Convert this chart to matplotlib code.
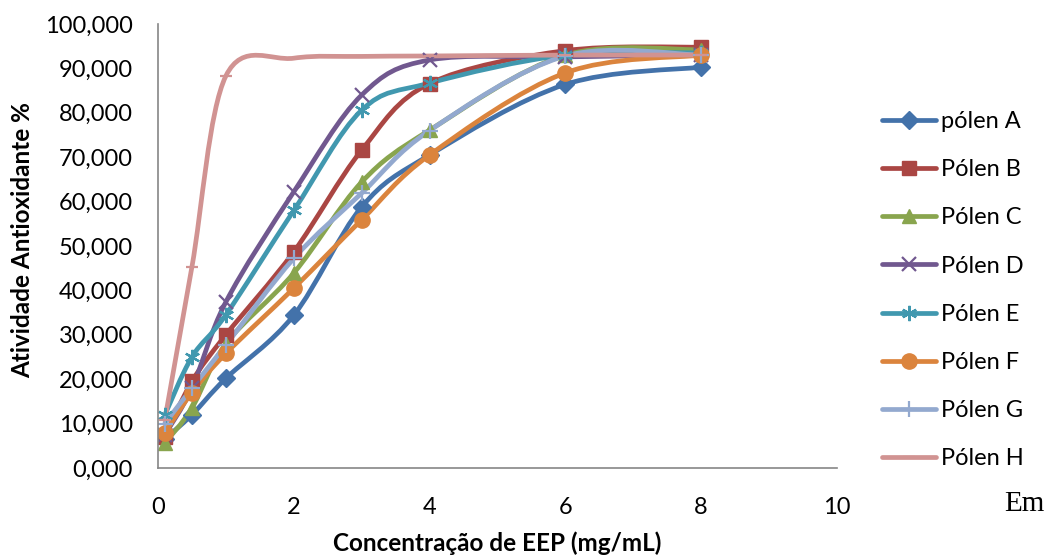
import numpy as np
import matplotlib
matplotlib.use("Agg")
import matplotlib.pyplot as plt
from matplotlib.path import Path
from matplotlib.patches import PathPatch
from matplotlib.lines import Line2D

plt.rcParams['font.family'] = ['Lato', 'DejaVu Sans']

# concentracao (mg/mL)
conc = [0.1, 0.5, 1, 2, 3, 4, 6, 8]

polen_a = [6.5, 12.0, 20.2, 34.4, 58.8, 70.5, 86.4, 90.3]
polen_b = [7.0, 19.5, 30.0, 48.7, 71.6, 86.6, 94.0, 94.8]
polen_c = [5.6, 13.5, 28.0, 43.9, 64.4, 76.1, 93.0, 94.2]
polen_d = [7.5, 18.0, 37.4, 62.2, 84.0, 91.9, 92.6, 93.0]
polen_e = [11.9, 25.0, 34.5, 58.0, 80.6, 86.7, 93.0, 93.5]
polen_f = [7.9, 17.0, 25.8, 40.5, 55.9, 70.5, 89.0, 93.0]
polen_g = [10.0, 18.0, 27.7, 47.2, 61.9, 76.0, 92.8, 93.0]
polen_h = [10.8, 45.3, 88.3, 92.3, 92.7, 92.8, 93.0, 93.0]

labels = ['pólen A', 'Pólen B', 'Pólen C', 'Pólen D', 'Pólen E', 'Pólen F', 'Pólen G', 'Pólen H']
series = [polen_a, polen_b, polen_c, polen_d, polen_e, polen_f, polen_g, polen_h]
colors = ['#4372AA', '#AA4643', '#89A54E', '#71588F', '#4198AF', '#DB843D', '#93A9CF', '#D19392']
markers = ['D', 's', '^', 'x', (6, 2, 0), 'o', '+', '_']
msizes = [9, 10, 10, 10, 11, 11, 11, 9]


# curva suavizada tipo excel (bezier cubica, catmull-rom)
def smooth_path(x, y):
    p = np.column_stack([x, y]).astype(float)
    verts = [p[0]]
    codes = [Path.MOVETO]
    n = len(p)
    for i in range(n - 1):
        p0 = p[i - 1] if i > 0 else p[i]
        p1 = p[i]
        p2 = p[i + 1]
        p3 = p[i + 2] if i + 2 < n else p[i + 1]
        c1 = p1 + (p2 - p0) / 6.0
        c2 = p2 - (p3 - p1) / 6.0
        verts += [c1, c2, p2]
        codes += [Path.CURVE4] * 3
    return Path(verts, codes)


fig = plt.figure(figsize=(10.56, 5.57), dpi=100)
ax = fig.add_axes([0.1496, 0.1598, 0.6430, 0.7971])

handles = []
for ys, lab, c, m, ms in zip(series, labels, colors, markers, msizes):
    patch = PathPatch(smooth_path(conc, ys), facecolor='none', edgecolor=c,
                      lw=3.4, capstyle='round', joinstyle='round')
    ax.add_patch(patch)
    mew = 1.6 if m in ('x', '+', '_') or isinstance(m, tuple) else 1
    ax.plot(conc, ys, linestyle='none', marker=m, markersize=ms, color=c,
            markeredgecolor=c, markeredgewidth=mew)
    handles.append(Line2D([], [], color=c, lw=3.4, solid_capstyle='round',
                          marker=m, markersize=ms, markeredgecolor=c, markeredgewidth=mew))

ax.set_xlim(0, 10)
ax.set_ylim(0, 100)
ax.set_xticks([0, 2, 4, 6, 8, 10])
ax.set_yticks(np.arange(0, 101, 10))
ax.set_yticklabels(['%d,000' % v for v in range(0, 101, 10)])
ax.tick_params(length=0, labelsize=17)
ax.tick_params(axis='y', pad=18)
ax.tick_params(axis='x', pad=21)
for s in ['top', 'right']:
    ax.spines[s].set_visible(False)
for s in ['left', 'bottom']:
    ax.spines[s].set_color('#868686')
    ax.spines[s].set_linewidth(1.2)

fig.text(0.471, 0.024, 'Concentração de EEP (mg/mL)', fontsize=17.5, fontweight='bold',
         ha='center', va='center')
fig.text(0.021, 0.569, 'Atividade Antioxidante %', fontsize=17.5, fontweight='bold',
         rotation=90, ha='center', va='center')

fig.legend(handles, labels, loc='center left', bbox_to_anchor=(0.835, 0.479),
           frameon=False, fontsize=17, handlelength=2.3, handletextpad=0.2,
           labelspacing=1.15, borderpad=0, borderaxespad=0)

fig.text(0.970, 0.095, 'Em', fontsize=21, family='Liberation Serif', ha='center', va='center')

fig.savefig('out.png', dpi=100)
